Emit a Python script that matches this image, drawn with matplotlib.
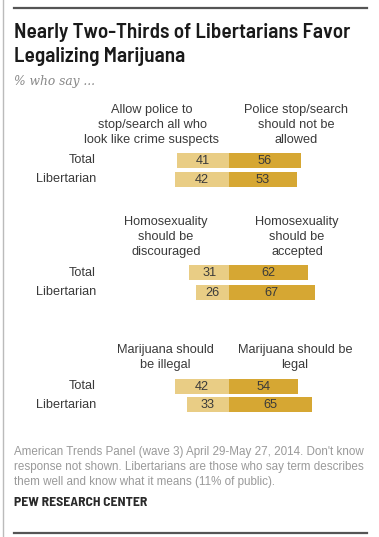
import matplotlib
matplotlib.use("Agg")
import matplotlib.pyplot as plt
from matplotlib import font_manager as fm

W, H = 379, 537
DPI = 100

rows = ["Total", "Libertarian"]
left_headers = ["Allow police to\nstop/search all who\nlook like crime suspects",
                "Homosexuality\nshould be\ndiscouraged",
                "Marijuana should\nbe illegal"]
right_headers = ["Police stop/search\nshould not be\nallowed",
                 "Homosexuality\nshould be\naccepted",
                 "Marijuana should be\nlegal"]
left_values = [[41, 42], [31, 26], [42, 33]]
right_values = [[56, 53], [62, 67], [54, 65]]

title_lines = ["Nearly Two-Thirds of Libertarians Favor", "Legalizing Marijuana"]
subtitle = "% who say ..."
note_lines = ["American Trends Panel (wave 3) April 29-May 27, 2014. Don't know",
              "response not shown. Libertarians are those who say term describes",
              "them well and know what it means (11% of public)."]
source = "PEW RESEARCH CENTER"

light = "#e9cd85"
dark = "#d6a733"

names = {f.name for f in fm.fontManager.ttflist}

def pick(cands, default):
    for c in cands:
        if c in names:
            return c
    return default

title_font = pick(["Barlow Semi Condensed", "Archivo Narrow", "Asap Condensed"], "DejaVu Sans")
body_family = "Liberation Sans"

fig = plt.figure(figsize=(W / DPI, H / DPI), dpi=DPI)
fig.patch.set_facecolor("white")
renderer = fig.canvas.get_renderer()

divider_px = 229.0
px_per_unit = 1.28
ax = fig.add_axes([0, 0, 1, 1])
ax.set_xlim(-divider_px / px_per_unit, (W - divider_px) / px_per_unit)
ax.set_ylim(H, 0)
ax.axis("off")

def px(x):
    return (x - divider_px) / px_per_unit

def fit(t, target_w):
    bb = t.get_window_extent(renderer=renderer)
    t.set_fontsize(t.get_fontsize() * target_w / bb.width)

# frame lines
ax.plot([px(3), px(3)], [0, H], color="#bbbbbb", lw=1.0)
ax.plot([px(14), px(367)], [8, 8], color="#555555", lw=1.6)
ax.plot([px(14), px(367)], [533, 533], color="#555555", lw=1.6)

t1 = ax.text(px(14), 37.5, title_lines[0], fontsize=13, fontweight="semibold",
             family=title_font, color="#1a1a1a", va="baseline", ha="left")
fit(t1, 336)
ax.text(px(14), 62.5, title_lines[1], fontsize=t1.get_fontsize(), fontweight="semibold",
        family=title_font, color="#1a1a1a", va="baseline", ha="left")
ts = ax.text(px(14), 82, subtitle, fontsize=8.5, style="italic", family="DejaVu Serif",
             color="#888888", va="center", ha="left")
fit(ts, 81)

panel_row_y = [(160, 179.5), (272.5, 292), (386, 404.5)]
header_center = [108, 220, 348]
left_hdr_x = [152, 166, 165]
right_hdr_x = [296, 297, 295]
line_step = 15.3
bar_h = 15

body_font = dict(family=body_family, fontsize=9.0, color="#3a3a3a")

probe = ax.text(0, 0, left_headers[0].split("\n")[2], **body_font)
bb = probe.get_window_extent(renderer=renderer)
body_font["fontsize"] = 9.0 * 136 / bb.width
probe.remove()

for p in range(3):
    ys = panel_row_y[p]
    ax.barh(ys, [-v for v in left_values[p]], height=bar_h, left=0, color=light)
    ax.barh(ys, right_values[p], height=bar_h, left=0, color=dark)
    for y, lv, rv, r in zip(ys, left_values[p], right_values[p], rows):
        ax.text(-lv / 2, y + 0.5, str(lv), ha="center", va="center", **body_font)
        ax.text(rv / 2, y + 0.5, str(rv), ha="center", va="center", **body_font)
        ax.text(px(96), y, r, ha="right", va="center", **body_font)
    for hdrs, hx in ((left_headers, left_hdr_x), (right_headers, right_hdr_x)):
        for k, line in enumerate(hdrs[p].split("\n")):
            ax.text(px(hx[p]), header_center[p] + line_step * k, line, ha="center",
                    va="center_baseline", **body_font)

for i, line in enumerate(note_lines):
    tn = ax.text(px(14), 452 + 15 * i, line, ha="left", va="center", family=body_family,
                 fontsize=8, color="#9a9a9a")
    if i == 0:
        fit(tn, 352)
        note_size = tn.get_fontsize()
    else:
        tn.set_fontsize(note_size)
tsrc = ax.text(px(14), 502, source, ha="left", va="center", family=title_font,
               fontsize=8, fontweight="bold", color="#2a2a2a")
fit(tsrc, 133)

fig.savefig("out.png", dpi=DPI, facecolor="white")
